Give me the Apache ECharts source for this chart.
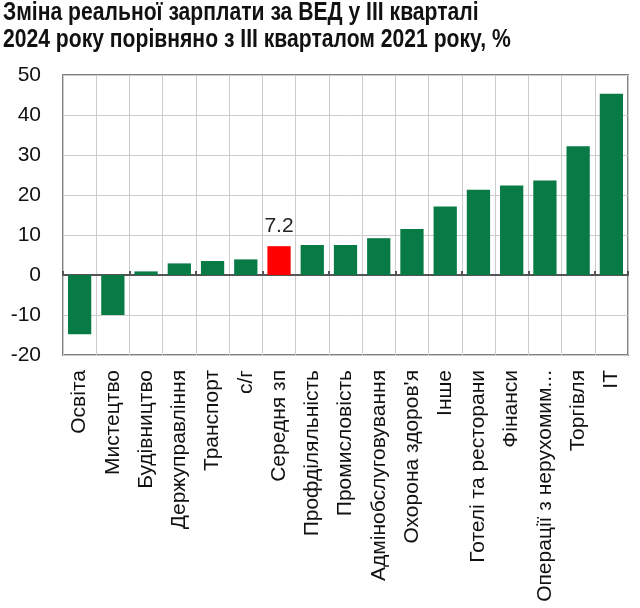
<!DOCTYPE html>
<html><head><meta charset="utf-8">
<script src="https://cdn.jsdelivr.net/npm/echarts@6/dist/echarts.min.js"></script>
<style>html,body{margin:0;padding:0;background:#fff}#c{width:640px;height:608px}</style>
</head><body><div id="c"></div>
<script>
const titleLines = ['Зміна реальної зарплати за ВЕД у ІІІ кварталі', '2024 року порівняно з ІІІ кварталом 2021 року, %'];
const categories = ['Освіта','Мистецтво','Будівництво','Держуправління','Транспорт','с/г','Середня зп','Профділяльність','Промисловість','Адмінобслуговування',"Охорона здоров'я",'Інше','Готелі та ресторани','Фінанси','Операції з нерухомим...','Торгівля','ІТ'];
const values = [-14.8,-10.0,0.9,2.9,3.5,3.9,7.2,7.5,7.5,9.2,11.5,17.1,21.3,22.4,23.6,32.2,45.3];
const highlightIndex = 6;
const yMin = -20, yMax = 50, yStep = 10;

const chart = echarts.init(document.getElementById('c'));
chart.setOption({
  animation: false,
  graphic: [{
    type: 'text', x: 3, y: 0, scaleX: 0.845, scaleY: 1,
    style: {text: titleLines.join('\n'), font: 'bold 25px "Liberation Sans", Arial', lineHeight: 27, fill: '#111', verticalAlign: 'top', align: 'left'}
  }],
  grid: {left: 63, right: 12, top: 75, bottom: 253, show: true, borderColor: '#808080', borderWidth: 2, backgroundColor: 'transparent'},
  xAxis: [{
    type: 'category', data: categories, position: 'bottom',
    axisLine: {show: false, onZero: false}, axisTick: {show: false},
    splitLine: {show: true, interval: 0, lineStyle: {color: '#cccccc', width: 1}},
    axisLabel: {rotate: 90, interval: 0, margin: 15, fontSize: 21, color: '#111', fontFamily: 'Liberation Sans, Arial', overflow: 'none'}
  }, {
    type: 'category', data: categories, position: 'bottom',
    axisLine: {show: true, onZero: true, lineStyle: {color: '#555', width: 2}},
    axisTick: {show: true, inside: true, interval: 1, length: 4, lineStyle: {color: '#555', width: 2}},
    axisLabel: {show: false}, splitLine: {show: false}
  }],
  yAxis: {
    type: 'value', min: yMin, max: yMax, interval: yStep,
    axisLine: {show: false}, axisTick: {show: false},
    splitLine: {lineStyle: {color: '#cccccc', width: 1}},
    axisLabel: {fontSize: 21, color: '#111', margin: 22, fontFamily: 'Liberation Sans, Arial'}
  },
  series: [{
    type: 'bar', xAxisIndex: 0, barCategoryGap: '30%',
    data: values.map((v, i) => ({
      value: v,
      itemStyle: {color: i === highlightIndex ? '#ff0000' : '#077a46'},
      label: i === highlightIndex ? {show: true, position: 'top', distance: 9, fontSize: 21, color: '#222', fontFamily: 'Liberation Sans, Arial', formatter: '{c}'} : {show: false}
    }))
  }]
});
</script></body></html>
